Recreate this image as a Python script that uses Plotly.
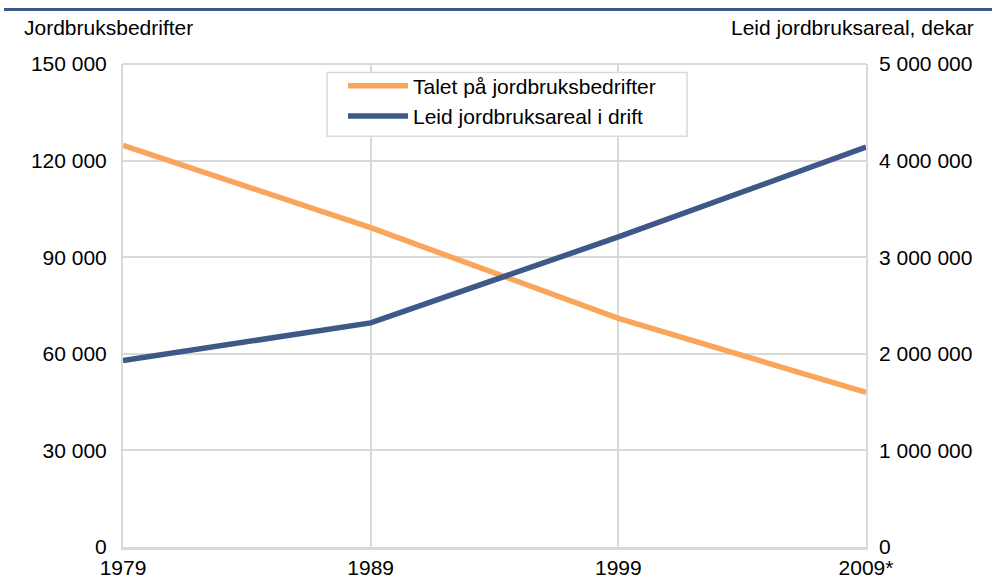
import plotly.graph_objects as go

years = [1979, 1989, 1999, 2009]
year_labels = ["1979", "1989", "1999", "2009*"]
bedrifter = [124700, 99200, 71000, 48000]
leid_areal = [1930000, 2320000, 3210000, 4140000]

left_ticks = [0, 30000, 60000, 90000, 120000, 150000]
right_ticks = [0, 1000000, 2000000, 3000000, 4000000, 5000000]

def fmt(v):
    return f"{v:,}".replace(",", " ")

fig = go.Figure()
fig.add_trace(go.Scatter(x=years, y=bedrifter, mode="lines",
                         name="Talet på jordbruksbedrifter",
                         line=dict(color="#F9A65A", width=5.5)))
fig.add_trace(go.Scatter(x=years, y=leid_areal, mode="lines",
                         name="Leid jordbruksareal i drift", yaxis="y2",
                         line=dict(color="#3E5887", width=5.5)))

font = "Liberation Sans, Arial, sans-serif"
FS = 21
W, H = 992, 582
l, r, t, b = 123, 126, 63.5, 34.5
PW, PH = W - l - r, H - t - b
grid = "#d9d9d9"

def px(x):
    return (x - l) / PW

def py(y):
    return (H - b - y) / PH

fig.update_layout(
    width=W, height=H,
    margin=dict(l=l, r=r, t=t, b=b, pad=0, autoexpand=False),
    paper_bgcolor="white", plot_bgcolor="white",
    font=dict(family=font, size=FS, color="#000000"),
    showlegend=True,
    legend=dict(x=px(343), y=py(65),
                xanchor="left", yanchor="top",
                bgcolor="rgba(0,0,0,0)", borderwidth=0,
                font=dict(size=FS, family=font), itemwidth=60,
                tracegroupgap=0),
    xaxis=dict(range=[1979, 2009], tickvals=years, ticktext=year_labels,
               showgrid=True, gridcolor=grid, gridwidth=2,
               showline=True, linecolor=grid, linewidth=3,
               zeroline=False, ticks="", tickfont=dict(size=FS),
               automargin=False),
    yaxis=dict(range=[0, 150000], tickvals=left_ticks,
               ticktext=[fmt(v) for v in left_ticks],
               showgrid=True, gridcolor=grid, gridwidth=2,
               showline=True, mirror=True, linecolor=grid, linewidth=2,
               zeroline=False, ticks="",
               ticklabelstandoff=10, tickfont=dict(size=FS),
               automargin=False),
    yaxis2=dict(range=[0, 5000000], tickvals=right_ticks,
                ticktext=[fmt(v) for v in right_ticks],
                overlaying="y", side="right", showgrid=False,
                zeroline=False, showline=False, ticks="",
                ticklabelstandoff=12, tickfont=dict(size=FS),
                automargin=False),
    annotations=[
        dict(text="Jordbruksbedrifter", xref="paper", yref="paper",
             x=px(22), y=py(27),
             xanchor="left", yanchor="middle", showarrow=False,
             font=dict(size=FS)),
        dict(text="Leid jordbruksareal, dekar", xref="paper", yref="paper",
             x=px(976), y=py(27),
             xanchor="right", yanchor="middle", showarrow=False,
             font=dict(size=FS)),
    ],
    shapes=[
        dict(type="line", xref="paper", yref="paper",
             x0=px(4), x1=px(992), y0=py(9), y1=py(9),
             line=dict(color="#3E5887", width=3)),
        dict(type="line", xref="paper", yref="paper", layer="below",
             x0=0, x1=1, y0=1, y1=1,
             line=dict(color=grid, width=2)),
        dict(type="rect", xref="paper", yref="paper", layer="above",
             x0=px(327), x1=px(687), y0=py(72), y1=py(136),
             fillcolor="white", line=dict(color=grid, width=1.5)),
    ],
)

fig.write_html("out.html",
               config={"displayModeBar": False},
               post_script="document.body.style.margin='0';document.body.style.padding='0';")
